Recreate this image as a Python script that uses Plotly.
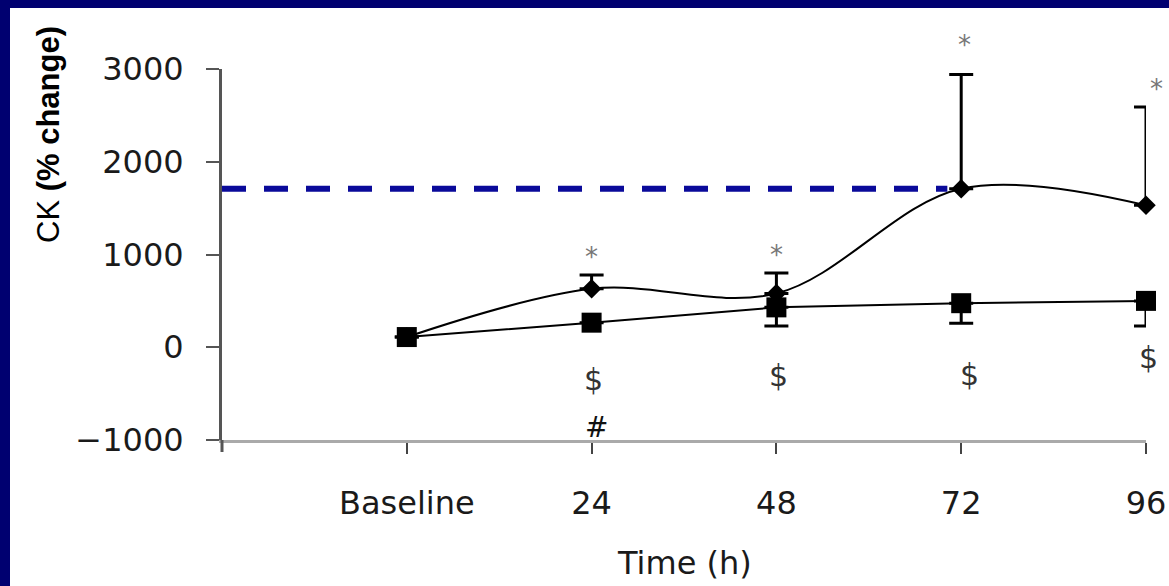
import plotly.graph_objects as go

# Creatine kinase response over time (percent change from baseline)
time_labels = ["Baseline", "24", "48", "72", "96"]
ck_group_a = [110, 630, 580, 1710, 1530]
ck_group_a_err = [0, 150, 220, 1230, 1060]
ck_group_b = [110, 265, 430, 475, 500]
ck_group_b_err = [0, 0, 200, 215, 270]

y_ticks = [-1000, 0, 1000, 2000, 3000]

# significance markers: "*" above group A, "$" and "#" below
star_points = [1, 2, 3, 4]
dollar_points = [1, 2, 3, 4]
dollar_levels = [-350, -300, -290, -110]
hash_point = 1
hash_level = -870

W, H = 1169, 586
L, R, T, B = 222, 23, 69, 146
PW, PH = W - L - R, H - T - B
navy = "#000070"
tick_font = dict(family="DejaVu Sans", size=32, color="#1a1a1a")

x = list(range(len(time_labels)))

fig = go.Figure()

fig.add_trace(go.Scatter(
    x=x, y=ck_group_a,
    mode="lines+markers",
    line=dict(color="black", width=2, shape="spline", smoothing=1.0),
    marker=dict(symbol="diamond", size=15, color="black"),
    error_y=dict(type="data", symmetric=False, array=ck_group_a_err,
                 arrayminus=[0] * len(x), color="black", thickness=3, width=12),
    cliponaxis=False, showlegend=False,
))

fig.add_trace(go.Scatter(
    x=x, y=ck_group_b,
    mode="lines+markers",
    line=dict(color="black", width=2),
    marker=dict(symbol="square", size=20, color="black"),
    error_y=dict(type="data", symmetric=False, array=[0] * len(x),
                 arrayminus=ck_group_b_err, color="black", thickness=3, width=12),
    cliponaxis=False, showlegend=False,
))

shapes = [
    # navy frame strips along the left and top edges
    dict(type="rect", xref="paper", yref="paper",
         x0=-L / PW, x1=(10 - L) / PW, y0=-B / PH, y1=(H - B) / PH,
         fillcolor=navy, line_width=0, layer="below"),
    dict(type="rect", xref="paper", yref="paper",
         x0=-L / PW, x1=1 + R / PW, y0=(H - B - 8) / PH, y1=(H - B) / PH,
         fillcolor=navy, line_width=0, layer="below"),
    # dashed reference level at the 72 h peak
    dict(type="line", xref="x", yref="y", x0=-1, x1=3 - 0.075,
         y0=ck_group_a[3], y1=ck_group_a[3],
         line=dict(color="#0a0a9a", width=6, dash="24px,18px"), layer="above"),
    # y-axis line continues a little below the x axis
    dict(type="line", xref="paper", yref="paper", x0=0, x1=0,
         y0=0, y1=-12 / PH,
         line=dict(color="#555555", width=3)),
]

annotations = []
star_dx = {4: 10, 3: 3}
star_dy = {3: 30}
for i in star_points:
    annotations.append(dict(
        x=i, y=ck_group_a[i] + ck_group_a_err[i], xref="x", yref="y",
        text="*", showarrow=False, yanchor="middle",
        xshift=star_dx.get(i, 0), yshift=star_dy.get(i, 18),
        font=dict(family="DejaVu Sans", size=26, color="#777777"),
    ))
dollar_dx = {3: 8}
for i, lvl in zip(dollar_points, dollar_levels):
    annotations.append(dict(
        x=i, y=lvl, xref="x", yref="y", text="$", showarrow=False,
        xshift=dollar_dx.get(i, 2),
        font=dict(family="DejaVu Sans", size=30, color="#333333"),
    ))
annotations.append(dict(
    x=hash_point, y=hash_level, xref="x", yref="y", text="#", showarrow=False,
    xshift=5, font=dict(family="DejaVu Sans", size=28, color="#111111"),
))
annotations.append(dict(
    x=0.5, y=(440 - 584) / PH, xref="paper", yref="paper",
    text="Time (h)", showarrow=False, yanchor="bottom",
    font=dict(family="DejaVu Sans", size=32, color="#1a1a1a"),
))
annotations.append(dict(
    x=(48 - L) / PW, y=(440 - 135) / PH, xref="paper", yref="paper",
    text="CK <b>(% change)</b>", textangle=-90, showarrow=False,
    xanchor="center", yanchor="middle",
    font=dict(family="Liberation Sans", size=31, color="black"),
))

fig.update_layout(
    width=W, height=H, autosize=False,
    margin=dict(l=L, r=R, t=T, b=B, pad=0, autoexpand=False),
    paper_bgcolor="white", plot_bgcolor="white",
    shapes=shapes, annotations=annotations,
    xaxis=dict(
        range=[-1, 4], tickvals=x, ticktext=time_labels,
        showline=True, linecolor="#aaaaaa", linewidth=3,
        ticks="outside", ticklen=11, tickwidth=2, tickcolor="#444444",
        showgrid=False, zeroline=False, tickfont=tick_font,
        ticklabelstandoff=22, automargin=False,
    ),
    yaxis=dict(
        range=[-1000, 3000], tickvals=y_ticks,
        showline=True, linecolor="#555555", linewidth=3,
        ticks="outside", ticklen=13, tickwidth=2, tickcolor="#555555",
        showgrid=False, zeroline=False, tickfont=tick_font,
        ticklabelstandoff=16, automargin=False,
    ),
)

fig.write_html("out.html")
